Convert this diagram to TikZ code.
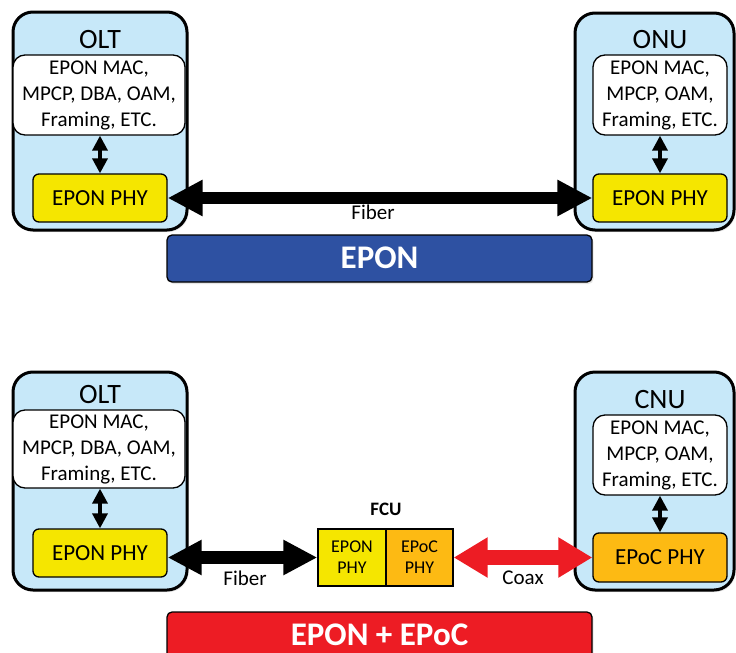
\documentclass[tikz,border=0pt]{standalone}
\usepackage{fontspec}
\setmainfont{Carlito}
\usetikzlibrary{arrows.meta,shadows}
\definecolor{unitblue}{RGB}{199,232,249}
\definecolor{phyyellow}{RGB}{245,230,0}
\definecolor{epocorange}{RGB}{253,186,19}
\definecolor{eponblue}{RGB}{46,81,162}
\definecolor{epocred}{RGB}{237,28,36}
\tikzset{
  unit/.style={draw, line width=3pt, fill=unitblue, rounded corners=20pt, inner sep=0pt,
    drop shadow={shadow xshift=1.5pt, shadow yshift=-2pt, opacity=0.2}},
  unittitle/.style={inner sep=0pt, anchor=base, font=\fontsize{28}{32}\selectfont},
  mac/.style={draw, line width=1.3pt, fill=white, rounded corners=12pt, inner sep=0pt,
    align=center, font=\fontsize{21}{26}\selectfont},
  phy/.style={draw, line width=1.3pt, rounded corners=6pt, inner sep=0pt,
    font=\fontsize{23}{26}\selectfont},
  fcubox/.style={draw, line width=1.3pt, inner sep=0pt, align=center,
    font=\fontsize{18}{21}\selectfont},
  bar/.style={draw, line width=1.3pt, rounded corners=5pt, inner sep=0pt,
    drop shadow={shadow xshift=1.5pt, shadow yshift=-2pt, opacity=0.2}},
  bartext/.style={inner sep=0pt, anchor=base, text=white, font=\bfseries\fontsize{33}{36}\selectfont},
  lbl/.style={inner sep=0pt, font=\fontsize{21}{24}\selectfont},
  vlink/.style={line width=3.5pt, {Triangle[length=15pt,width=15pt]}-{Triangle[length=15pt,width=15pt]}},
  biglink/.style={line width=12pt, {Triangle[length=35pt,width=34pt]}-{Triangle[length=35pt,width=34pt]}},
}
\begin{document}
\begin{tikzpicture}[x=1pt,y=-1pt]
\useasboundingbox (0,0) rectangle (736,653);
\clip (0,0) rectangle (736,653);

% ---------- EPON (upper system) ----------
\node[unit, minimum width=174, minimum height=218] (olt) at (100,121) {};
\node[unittitle] (oltT) at (100,48) {OLT};
\node[mac, minimum width=172, minimum height=80] (oltM) at (99,95) {EPON MAC,\\MPCP, DBA, OAM,\\Framing, ETC.};
\node[phy, fill=phyyellow, minimum width=134, minimum height=48] (oltP) at (100,198) {EPON PHY};
\draw[vlink] (oltM.south -| oltP.north) -- (oltP.north);

\node[unit, minimum width=159, minimum height=217] (onu) at (654.5,121.5) {};
\node[unittitle] (onuT) at (660,48) {ONU};
\node[mac, minimum width=134, minimum height=80] (onuM) at (660,95) {EPON MAC,\\MPCP, OAM,\\Framing, ETC.};
\node[phy, fill=phyyellow, minimum width=134, minimum height=48] (onuP) at (660,198) {EPON PHY};
\draw[vlink] (onuM.south) -- (onuP.north);

\draw[biglink] (oltP.east) -- (onuP.west);
\node[lbl] (fib1) at (373,212) {Fiber};

\node[bar, fill=eponblue, minimum width=425, minimum height=47] (eponbar) at (379.5,258.5) {};
\node[bartext] (epontext) at (379.5,268.5) {EPON};

% ---------- EPON + EPoC (lower system) ----------
\node[unit, minimum width=174, minimum height=218] (olt2) at (100,481) {};
\node[unittitle] (olt2T) at (100,403) {OLT};
\node[mac, minimum width=172, minimum height=78] (olt2M) at (99,449) {EPON MAC,\\MPCP, DBA, OAM,\\Framing, ETC.};
\node[phy, fill=phyyellow, minimum width=134, minimum height=48] (olt2P) at (100,553) {EPON PHY};
\draw[vlink] (olt2M.south -| olt2P.north) -- (olt2P.north);

\node[unit, minimum width=159, minimum height=218] (cnu) at (654.5,481) {};
\node[unittitle] (cnuT) at (660,408) {CNU};
\node[mac, minimum width=134, minimum height=80] (cnuM) at (660,455) {EPON MAC,\\MPCP, OAM,\\Framing, ETC.};
\node[phy, fill=epocorange, minimum width=134, minimum height=49] (cnuP) at (660,557.5) {EPoC PHY};
\draw[vlink] (cnuM.south) -- (cnuP.north);

\node[inner sep=0pt, anchor=base, font=\bfseries\fontsize{19}{22}\selectfont] (fcuT) at (386,515) {FCU};
\node[fcubox, fill=phyyellow, minimum width=68, minimum height=57] (fcuA) at (352,557.5) {EPON\\PHY};
\node[fcubox, fill=epocorange, minimum width=67, minimum height=57] (fcuB) at (419.5,557.5) {EPoC\\PHY};

\draw[line width=13pt, {Triangle[length=34pt,width=33pt]}-{Triangle[length=34pt,width=33pt]}]
  (olt2P.east |- fcuA.west) -- (fcuA.west);
\node[lbl] (fib2) at (245,578) {Fiber};
\draw[epocred, line width=15pt, {Triangle[length=34pt,width=38pt]}-{Triangle[length=34pt,width=38pt]}]
  (fcuB.east) -- (cnuP.west);
\node[lbl] (coax) at (523,578) {Coax};

\node[bar, fill=epocred, minimum width=425, minimum height=50] (epocbar) at (379.5,637) {};
\node[bartext] (epoctext) at (379.5,645) {EPON + EPoC};
\end{tikzpicture}
\end{document}
